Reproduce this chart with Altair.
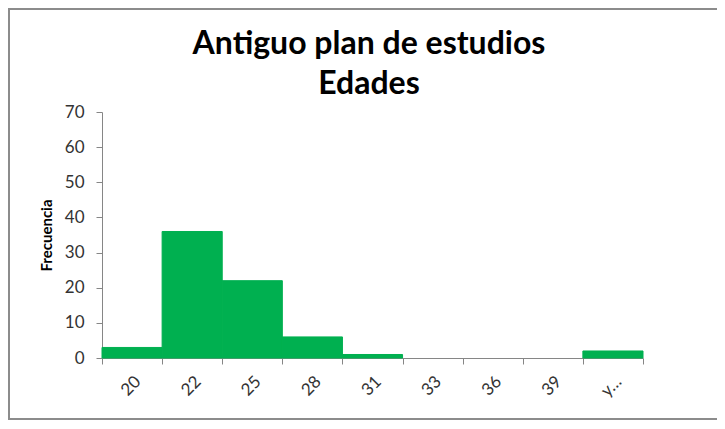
import altair as alt
import pandas as pd

categorias = ["20", "22", "25", "28", "31", "33", "36", "39", "y…"]
frecuencias = [3, 36, 22, 6, 1, 0, 0, 0, 2]
titulo = ["Antiguo plan de estudios", "Edades"]

df = pd.DataFrame({"Clase": categorias, "Frecuencia": frecuencias})
df_titulo = pd.DataFrame({"linea": titulo})

W, H = 541, 246
PL, PT, PR, PB = 94, 104, 74, 62

bars = alt.Chart(df).mark_bar(color="#00B050", stroke="#00B050", strokeWidth=1).encode(
    x=alt.X("Clase:N", sort=categorias,
            scale=alt.Scale(paddingInner=0, paddingOuter=0),
            axis=alt.Axis(title=None, labelAngle=-45, labelFontSize=17,
                          labelFont="Lato", labelColor="#333333",
                          tickBand="extent", tickSize=6, tickColor="#868686",
                          domainColor="#868686", labelPadding=9, grid=False)),
    y=alt.Y("Frecuencia:Q",
            scale=alt.Scale(domain=[0, 70]),
            axis=alt.Axis(title="Frecuencia", titleFontSize=15, titleFont="Lato",
                          titleFontWeight="bold", titleColor="#000000",
                          titlePadding=10,
                          values=list(range(0, 71, 10)), labelFontSize=17,
                          labelFont="Lato", labelColor="#333333",
                          tickSize=6, tickColor="#868686", domainColor="#868686",
                          labelPadding=12, grid=False)),
    strokeOpacity=alt.condition("datum.Frecuencia > 0", alt.value(1), alt.value(0)),
)

border = alt.Chart(df).mark_rect(fill=None, stroke="#8c8c8c", strokeWidth=1.5,
                                  clip=False).encode(
    x=alt.value(-PL + 1),
    x2=alt.value(W + PR + 10),
    y=alt.value(-PT + 1),
    y2=alt.value(H + PB - 1),
)

title1 = alt.Chart(df_titulo.iloc[[0]]).mark_text(
    font="Lato", fontSize=32, fontWeight="bold", color="#000000",
    align="center", baseline="alphabetic", clip=False).encode(
    text="linea:N", x=alt.value(267), y=alt.value(-58))
title2 = alt.Chart(df_titulo.iloc[[1]]).mark_text(
    font="Lato", fontSize=32, fontWeight="bold", color="#000000",
    align="center", baseline="alphabetic", clip=False).encode(
    text="linea:N", x=alt.value(267), y=alt.value(-18))

chart = alt.layer(border, bars, title1, title2).properties(
    width=W, height=H,
    autosize=alt.AutoSizeParams(type="none"),
    padding={"left": PL, "top": PT, "right": PR, "bottom": PB},
).configure_view(stroke=None)

chart.save("out.html", embed_options={"renderer": "svg", "actions": False})
